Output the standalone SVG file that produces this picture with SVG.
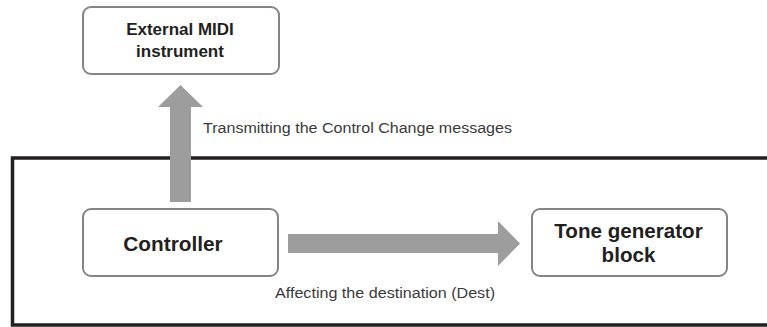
<svg xmlns="http://www.w3.org/2000/svg" width="767" height="327" viewBox="0 0 767 327">
<style>
.box{fill:#fff;stroke:#858585;stroke-width:2}
.lbl{font-family:"Liberation Sans",Arial,sans-serif;font-weight:bold;fill:#231f20;text-anchor:middle}
.note{font-family:"Liberation Sans",Arial,sans-serif;font-size:14px;fill:#3a3a3a}
.arrow{fill:#9d9d9d}
.frame{fill:none;stroke:#231f20;stroke-width:3.5}
</style>
<rect width="767" height="327" fill="#fff"/>
<g id="frame">
<path class="frame" d="M767,158 H12.5 V325 H767"/>
</g>
<g id="external-midi">
<rect class="box" x="83" y="7" width="196" height="67" rx="8"/>
<text class="lbl" x="180" y="35" font-size="17">External MIDI</text>
<text class="lbl" x="180" y="57" font-size="17">instrument</text>
</g>
<g id="controller">
<rect class="box" x="83" y="209" width="195" height="67" rx="8"/>
<text class="lbl" x="173" y="251" font-size="20.8">Controller</text>
</g>
<g id="tone-generator">
<rect class="box" x="532" y="209" width="195" height="67" rx="8"/>
<text class="lbl" x="628.5" y="238" font-size="20.6">Tone generator</text>
<text class="lbl" x="628.5" y="262" font-size="20.6">block</text>
</g>
<g id="connectors">
<polygon class="arrow" points="170,202 170,107 158,107 180.5,85 203,107 191,107 191,202"/>
<polygon class="arrow" points="288,234 498,234 498,221 520,243.5 498,266 498,253 288,253"/>
<text class="note" x="203" y="133" textLength="309" lengthAdjust="spacingAndGlyphs">Transmitting the Control Change messages</text>
<text class="note" x="275" y="298" textLength="220" lengthAdjust="spacingAndGlyphs">Affecting the destination (Dest)</text>
</g>
</svg>
